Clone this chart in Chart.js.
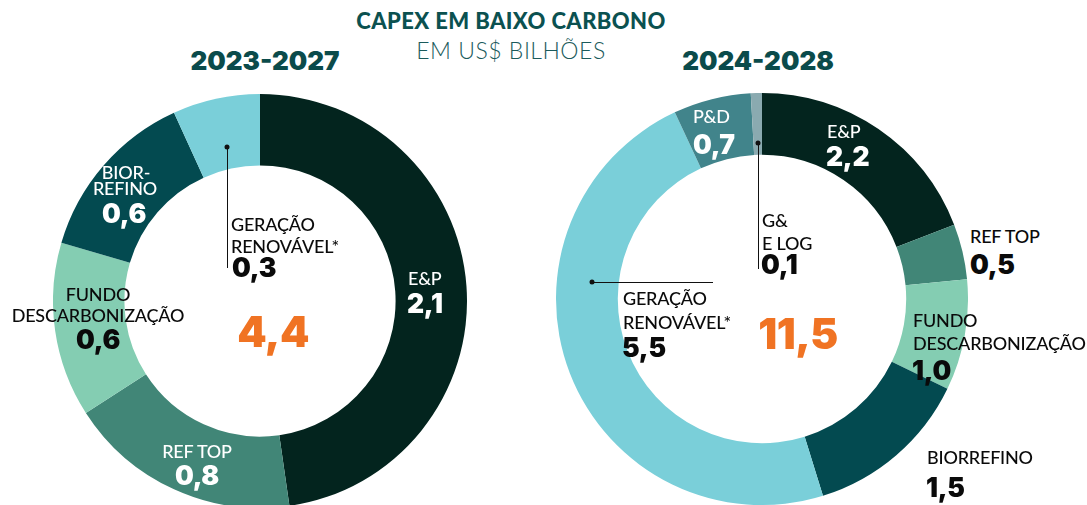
<!DOCTYPE html>
<html>
<head>
<meta charset="utf-8">
<script src="https://cdn.jsdelivr.net/npm/chart.js@4.4.1/dist/chart.umd.min.js"></script>
<style>
  html,body{margin:0;padding:0;background:#fff;width:1087px;height:505px;overflow:hidden;}
  body{position:relative;font-family:Lato,"Open Sans",sans-serif;}
  canvas{position:absolute;}
  .t{position:absolute;white-space:nowrap;line-height:1;transform:translateY(-50%);}
  .c{transform:translate(-50%,-50%);}
  .lab{font-size:18px;font-weight:500;letter-spacing:-0.2px;}
  .num{font-family:Inter,Roboto,sans-serif;font-size:26.5px;font-weight:900;letter-spacing:-0.3px;}
  .w{color:#fff;} .k{color:#0a0a0a;}
  .tot{font-family:Inter,Roboto,sans-serif;font-size:42px;font-weight:900;color:#f07323;letter-spacing:-0.5px;}
  .yr{font-family:Inter,Roboto,sans-serif;font-size:26px;font-weight:900;color:#0b4b4b;letter-spacing:0px;}
  .ln{position:absolute;background:#111;}
  .dot{position:absolute;width:5px;height:5px;border-radius:50%;background:#111;transform:translate(-50%,-50%);}
</style>
</head>
<body>
<div class="t c" style="left:511px;top:21px;font-size:22px;font-weight:900;color:#0b5150;letter-spacing:0.4px;">CAPEX EM BAIXO CARBONO</div>
<div class="t c" style="left:511px;top:50px;font-size:23px;font-weight:300;color:#1a5a5b;letter-spacing:0.5px;">EM US$ BILHÕES</div>
<canvas id="c1" width="414" height="414" style="left:53px;top:94px;width:414px;height:414px;"></canvas>
<canvas id="c2" width="412" height="412" style="left:556px;top:93px;width:412px;height:412px;"></canvas>
<div id="ann"></div>
<script>
// ---- data ----
const periods = ['2023-2027', '2024-2028'];
const categories2327 = ['E&P', 'REF TOP', 'FUNDO DESCARBONIZAÇÃO', 'BIORREFINO', 'GERAÇÃO RENOVÁVEL*'];
const values2327 = [2.1, 0.8, 0.6, 0.6, 0.3];
const categories2428 = ['E&P', 'REF TOP', 'FUNDO DESCARBONIZAÇÃO', 'BIORREFINO', 'GERAÇÃO RENOVÁVEL*', 'P&D', 'G&E LOG'];
const values2428 = [2.2, 0.5, 1.0, 1.5, 5.5, 0.7, 0.1];
const colors2327 = ['#03241e', '#418677', '#84cdb2', '#034a50', '#7acfd9'];
const colors2428 = ['#03241e', '#418677', '#84cdb2', '#034a50', '#7acfd9', '#41848b', '#8aaab0'];

const fmt = v => v.toFixed(1).replace('.', ',');

function makeChart(id, labels, data, colors, cutout) {
  return new Chart(document.getElementById(id), {
    type: 'doughnut',
    data: { labels: labels, datasets: [{ data: data, backgroundColor: colors, borderWidth: 0, hoverOffset: 0 }] },
    options: {
      responsive: false, animation: false, devicePixelRatio: 1, cutout: cutout,
      layout: { padding: 0 },
      plugins: { legend: { display: false }, tooltip: { enabled: false } }
    }
  });
}
makeChart('c1', categories2327, values2327, colors2327, '65.5%');
makeChart('c2', categories2428, values2428, colors2428, '70%');

// ---- annotations (text positions) ----
const ann = document.getElementById('ann');
function T(x, y, text, cls, centered) {
  const d = document.createElement('div');
  d.className = 't ' + cls + (centered ? ' c' : '');
  d.style.left = x + 'px'; d.style.top = y + 'px';
  d.textContent = text;
  ann.appendChild(d);
  return d;
}
function line(x, y, w, h) { const d = document.createElement('div'); d.className = 'ln'; d.style.cssText = `left:${x}px;top:${y}px;width:${w}px;height:${h}px`; ann.appendChild(d); }
function dot(x, y) { const d = document.createElement('div'); d.className = 'dot'; d.style.left = x + 'px'; d.style.top = y + 'px'; ann.appendChild(d); }
const sum = a => a.reduce((s, v) => s + v, 0);

T(265, 61, periods[0], 'yr', true);
T(758, 61, periods[1], 'yr', true);

// left chart
const L = values2327;
T(408, 278, 'E&P', 'lab w'); T(407, 303, fmt(L[0]), 'num w');
T(197, 451, 'REF TOP', 'lab w', true); T(197, 475, fmt(L[1]), 'num w', true);
T(98, 294, 'FUNDO', 'lab k', true); T(98, 315, 'DESCARBONIZAÇÃO', 'lab k', true); T(98, 339, fmt(L[2]), 'num k', true);
T(126, 172, 'BIOR-', 'lab w', true); T(125, 188, 'REFINO', 'lab w', true); T(124, 213, fmt(L[3]), 'num w', true);
T(231, 224, 'GERAÇÃO', 'lab k'); T(231, 246, 'RENOVÁVEL*', 'lab k'); T(232, 267, fmt(L[4]), 'num k');
line(226.5, 147, 1, 121); dot(227, 147);
T(273, 332, fmt(sum(L)), 'tot', true);

// right chart
const R = values2428;
T(827, 131, 'E&P', 'lab w'); T(826, 156, fmt(R[0]), 'num w');
T(970, 236, 'REF TOP', 'lab k'); T(970, 264, fmt(R[1]), 'num k');
T(913, 320, 'FUNDO', 'lab k'); T(913, 343, 'DESCARBONIZAÇÃO', 'lab k'); T(912, 370, fmt(R[2]), 'num k');
T(927, 457, 'BIORREFINO', 'lab k'); T(926, 487, fmt(R[3]), 'num k');
T(623, 298, 'GERAÇÃO', 'lab k'); T(623, 322, 'RENOVÁVEL*', 'lab k'); T(622, 347, fmt(R[4]), 'num k');
T(693, 116, 'P&D', 'lab w'); T(693, 144, fmt(R[5]), 'num w');
T(762, 220, 'G&', 'lab k'); T(762, 243, 'E LOG', 'lab k'); T(761, 264, fmt(R[6]), 'num k');
line(757.5, 143, 1, 126); dot(758, 143);
line(592, 281.5, 121, 1); dot(592, 282);
T(798, 334, fmt(sum(R)), 'tot', true);
</script>
</body>
</html>
